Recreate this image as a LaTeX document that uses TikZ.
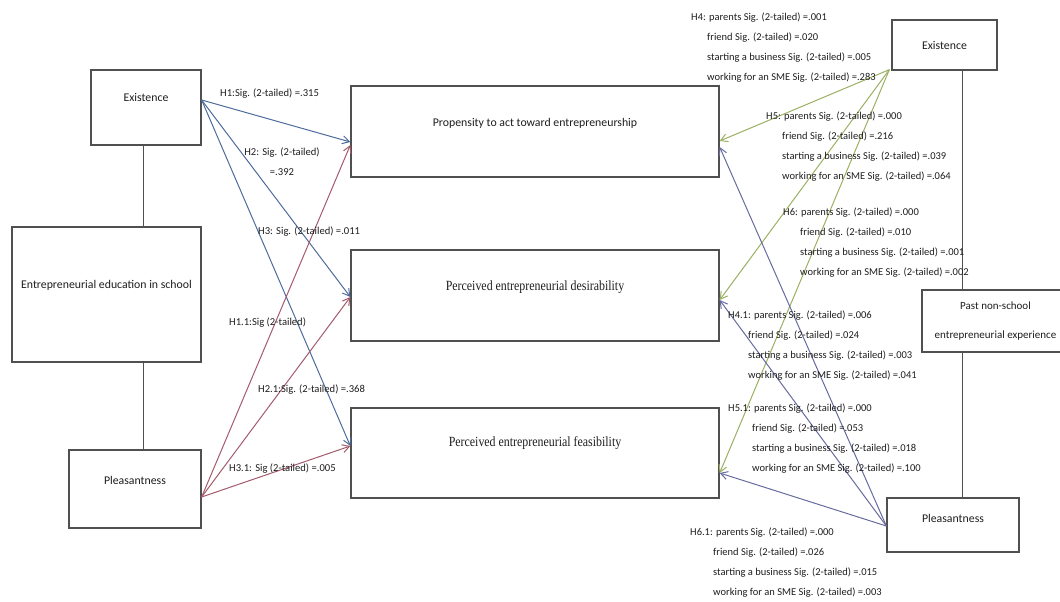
\documentclass[tikz,border=0pt]{standalone}
\usepackage{fontspec}
\setmainfont{Carlito}
\newfontfamily\serifbox[FakeStretch=0.85]{Liberation Serif}
\usetikzlibrary{arrows.meta}
\definecolor{boxgray}{HTML}{505050}
\definecolor{txtgray}{HTML}{1E1E1E}
\definecolor{exblue}{HTML}{4D6B9C}
\definecolor{plred}{HTML}{A35A6C}
\definecolor{exgreen}{HTML}{9AB062}
\definecolor{plslate}{HTML}{676B9E}
\begin{document}
\begin{tikzpicture}[x=1pt,y=-1pt,
  box/.style={draw=boxgray, line width=1.3pt, fill=white, inner sep=0pt},
  boxtxt/.style={inner sep=0pt, text=txtgray, font=\fontsize{11.8}{14}\selectfont},
  lbl/.style={inner sep=0pt, anchor=west, text=txtgray, font=\fontsize{10.6}{12}\selectfont},
  blk/.style={inner sep=0pt, anchor=north west, align=left, text=txtgray, font=\fontsize{10.5}{20}\selectfont},
  conn/.style={draw=boxgray, line width=1pt},
  arr/.style={line width=1pt, -{Straight Barb[length=7pt,width=8pt]}}
]
\useasboundingbox (0,0) rectangle (1060,602);
\clip (0,0) rectangle (1060,602);

% left boxes
\node[box, minimum width=110pt, minimum height=75pt] (exL) at (146,107.5) {};
\node[boxtxt] (exLt) at ([yshift=10pt]exL.center) {Existence};
\node[box, minimum width=189pt, minimum height=135pt] (edu) at (106.5,294.5) {};
\node[boxtxt] (edut) at ([yshift=9pt]edu.center) {Entrepreneurial education in school};
\node[box, minimum width=132pt, minimum height=78pt] (pleL) at (135,489) {};
\node[boxtxt] (pleLt) at ([yshift=9pt]pleL.center) {Pleasantness};

% middle boxes
\node[box, minimum width=368pt, minimum height=91pt] (prop) at (535,131.5) {};
\node[boxtxt] (propt) at ([yshift=8pt]prop.center) {Propensity to act toward entrepreneurship};
\node[box, minimum width=368pt, minimum height=91pt] (des) at (535,295.5) {};
\node[boxtxt, font=\serifbox\fontsize{14}{16}\selectfont] (dest) at ([yshift=8pt]des.center) {Perceived entrepreneurial desirability};
\node[box, minimum width=368pt, minimum height=90pt] (fea) at (535,453) {};
\node[boxtxt, font=\serifbox\fontsize{14}{16}\selectfont] (feat) at ([yshift=10pt]fea.center) {Perceived entrepreneurial feasibility};

% right boxes
\node[box, minimum width=105pt, minimum height=50pt] (exR) at (944.5,45) {};
\node[boxtxt] (exRt) at (exR.center) {Existence};
\node[box, minimum width=153pt, minimum height=62pt] (past) at (998.5,321) {};
\node[boxtxt, align=center, font=\fontsize{11}{29}\selectfont] (pastt) at ([xshift=-3pt]past.center) {Past non-school\\entrepreneurial experience};
\node[box, minimum width=132pt, minimum height=54pt] (pleR) at (953,525) {};
\node[boxtxt] (pleRt) at ([yshift=7pt]pleR.center) {Pleasantness};

% connecting lines
\draw[conn] (exL.south -| 143,0) -- (edu.north -| 143,0);
\draw[conn] (edu.south -| 143,0) -- (pleL.north -| 143,0);
\coordinate (vx) at (962,0);
\draw[conn] (exR.south -| vx) -- (past.north -| vx);
\draw[conn] (past.south -| vx) -- (pleR.north -| vx);

% left sources / targets
\coordinate (exLo) at ([yshift=7.5pt]exL.east);
\coordinate (pleLo) at ([yshift=-8pt]pleL.east);
\coordinate (propLb) at ([yshift=-10.5pt]prop.west);
\coordinate (propLr) at ([yshift=-13.5pt]prop.west);
\coordinate (desL) at ([yshift=-1.5pt]des.west);
\coordinate (feaL) at ([yshift=7pt]fea.west);

\draw[arr, exblue] (exLo) -- (propLb);
\draw[arr, exblue] (exLo) -- (desL);
\draw[arr, exblue] (exLo) -- (feaL);
\draw[arr, plred] (pleLo) -- (propLr);
\draw[arr, plred] (pleLo) -- (desL);
\draw[arr, plred] (pleLo) -- (feaL);

% right sources / targets
\coordinate (exRo) at ([xshift=-2pt,yshift=1pt]exR.south west);
\coordinate (pleRo) at ([yshift=-1pt]pleR.west);
\coordinate (propRg) at ([yshift=-9.5pt]prop.east);
\coordinate (propRs) at ([yshift=-15.5pt]prop.east);
\coordinate (desR) at ([yshift=-4.5pt]des.east);
\coordinate (feaR) at ([yshift=-20pt]fea.east);

\draw[arr, exgreen] (exRo) -- (propRg);
\draw[arr, exgreen] (exRo) -- (desR);
\draw[arr, exgreen] (exRo) -- (feaR);
\draw[arr, plslate] (pleRo) -- (propRs);
\draw[arr, plslate] (pleRo) -- (desR);
\draw[arr, plslate] (pleRo) -- (feaR);

% left labels
\node[lbl] (l1) at (220,94) {H1:Sig. (2-tailed) =.315};
\node[lbl, anchor=center, align=center, font=\fontsize{10.6}{20}\selectfont] (l2) at (282,162) {H2: Sig. (2-tailed)\\=.392};
\node[lbl] (l3) at (258,232) {H3: Sig. (2-tailed) =.011};
\node[lbl] (l4) at (229,323) {H1.1:Sig (2-tailed)};
\node[lbl] (l5) at (258,390) {H2.1:Sig. (2-tailed) =.368};
\node[lbl] (l6) at (229,469) {H3.1: Sig (2-tailed) =.005};

% right label blocks
\node[blk] (h4) at (691,13) {H4: parents Sig. (2-tailed) =.001\\
\hspace*{16pt}friend Sig. (2-tailed) =.020\\
\hspace*{16pt}starting a business Sig. (2-tailed) =.005\\
\hspace*{16pt}working for an SME Sig. (2-tailed) =.283};
\node[blk] (h5) at (766,112) {H5: parents Sig. (2-tailed) =.000\\
\hspace*{16pt}friend Sig. (2-tailed) =.216\\
\hspace*{16pt}starting a business Sig. (2-tailed) =.039\\
\hspace*{16pt}working for an SME Sig. (2-tailed) =.064};
\node[blk] (h6) at (783,208) {H6: parents Sig. (2-tailed) =.000\\
\hspace*{17pt}friend Sig. (2-tailed) =.010\\
\hspace*{17pt}starting a business Sig. (2-tailed) =.001\\
\hspace*{17pt}working for an SME Sig. (2-tailed) =.002};
\node[blk] (h41) at (728,311) {H4.1: parents Sig. (2-tailed) =.006\\
\hspace*{20pt}friend Sig. (2-tailed) =.024\\
\hspace*{20pt}starting a business Sig. (2-tailed) =.003\\
\hspace*{20pt}working for an SME Sig. (2-tailed) =.041};
\node[blk] (h51) at (728,404) {H5.1: parents Sig. (2-tailed) =.000\\
\hspace*{24pt}friend Sig. (2-tailed) =.053\\
\hspace*{24pt}starting a business Sig. (2-tailed) =.018\\
\hspace*{24pt}working for an SME Sig. (2-tailed) =.100};
\node[blk] (h61) at (690,528) {H6.1: parents Sig. (2-tailed) =.000\\
\hspace*{23pt}friend Sig. (2-tailed) =.026\\
\hspace*{23pt}starting a business Sig. (2-tailed) =.015\\
\hspace*{23pt}working for an SME Sig. (2-tailed) =.003};
\end{tikzpicture}
\end{document}
